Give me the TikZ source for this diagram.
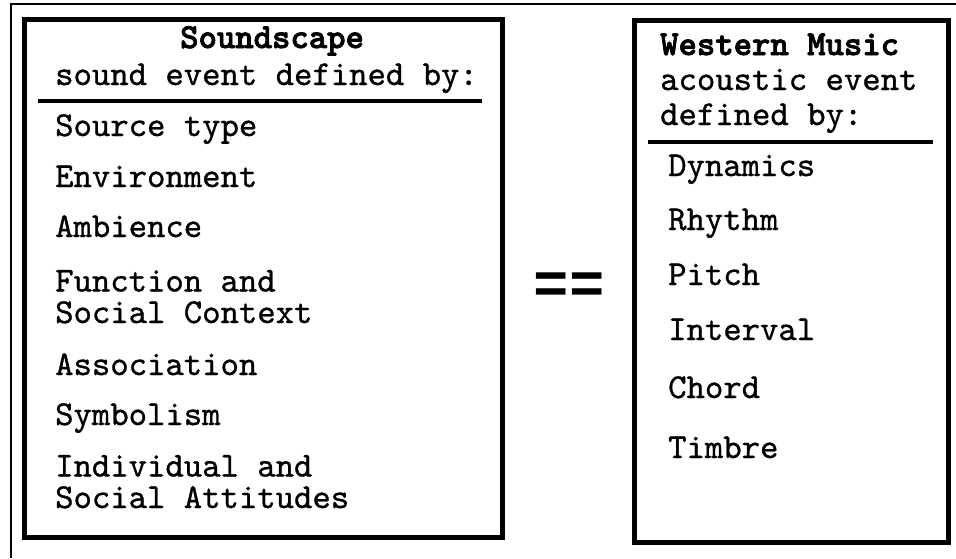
\documentclass[tikz,border=0pt]{standalone}
\usepackage{fontspec}
\newfontfamily\eqfont{Liberation Mono}
\setmonofont{lmmono10-regular.otf}[FakeBold=0.9, BoldFont=lmmonolt10-bold.otf, BoldFeatures={FakeBold=2.2}]
\begin{document}
\begin{tikzpicture}[x=1pt,y=-1pt,
  txt/.style={anchor=base west,inner sep=0pt,align=left,font=\ttfamily\fontsize{35}{31.5}\selectfont},
  btxt/.style={txt,font=\ttfamily\bfseries\fontsize{35}{31.5}\selectfont},
  frameline/.style={line width=2.5pt},
  boxframe/.style={draw,line width=5pt,inner sep=0pt},
  ruleline/.style={line width=4.5pt},
  eqtxt/.style={anchor=base,inner sep=0pt,font=\eqfont\bfseries\fontsize{59}{60}\selectfont}]
\useasboundingbox (0,0) rectangle (956,558);
% outer frame
\draw[frameline] (956,4) -- (11,4) -- (11,558);
% boxes
\node[boxframe,minimum width=477.5pt,minimum height=518.5pt] (lbox) at (263.25,278.25) {};
\node[boxframe,minimum width=314pt,minimum height=521.5pt] (rbox) at (791,281.25) {};
% dividers
\coordinate (la) at (38,101); \coordinate (lb) at (482,101);
\coordinate (ra) at (648,142); \coordinate (rb) at (933,142);
\draw[ruleline] (la) -- (lb);
\draw[ruleline] (ra) -- (rb);
% left texts (two-line nodes are anchored at the baseline of their last line)
\node[btxt] (t1) at (180,48) {Soundscape};
\node[txt] (t2) at (55,85) {sound event defined by:};
\node[txt] (l1) at (55,136) {Source type};
\node[txt] (l2) at (55,187) {Environment};
\node[txt] (l3) at (55,237) {Ambience};
\node[txt] (l4) at (55,323) {Function and\\Social Context};
\node[txt] (l5) at (55,375) {Association};
\node[txt] (l6) at (55,425) {Symbolism};
\node[txt] (l7) at (55,508) {Individual and\\Social Attitudes};
% right texts
\node[btxt] (r0) at (660,55) {Western Music};
\node[txt] (r0b) at (660,90) {acoustic event};
\node[txt] (r0c) at (660,125) {defined by:};
\node[txt] (r1) at (668,176) {Dynamics};
\node[txt] (r2) at (668,230) {Rhythm};
\node[txt] (r3) at (668,285) {Pitch};
\node[txt] (r4) at (668,340) {Interval};
\node[txt] (r5) at (668,398) {Chord};
\node[txt] (r6) at (668,458) {Timbre};
% equals
\node[eqtxt] (eq) at (569,303) {==};
\end{tikzpicture}
\end{document}
